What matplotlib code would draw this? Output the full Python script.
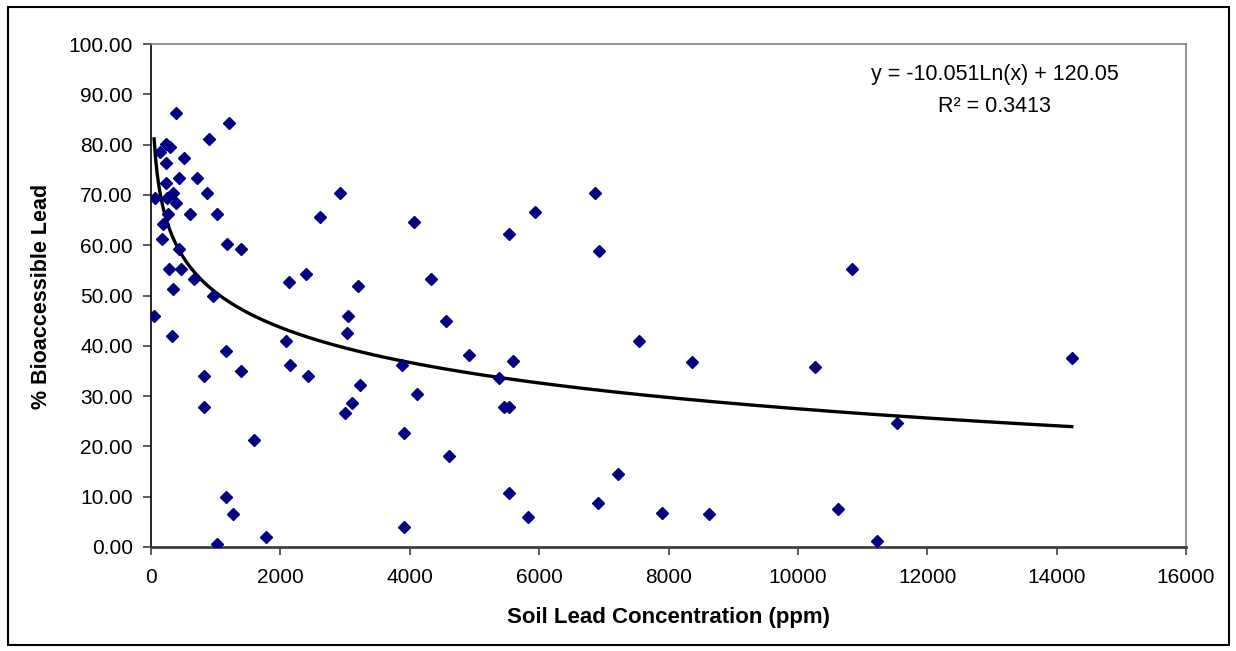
"""
Scatter: % bioaccessible lead vs soil lead concentration, with log trendline.
"""
import numpy as np
import matplotlib
matplotlib.use('Agg')
import matplotlib.pyplot as plt
from matplotlib.patches import Rectangle

plt.rcParams['font.family'] = ['Liberation Sans', 'DejaVu Sans']

# ─── Data ─────────────────────────────────────────────────────────────
soil_ppm = [48, 62, 139, 165, 190, 227, 294, 227, 227, 242,
            267, 278, 320, 335, 345, 382, 382, 433, 433, 459,
            510, 603, 665, 716, 819, 819, 870, 892, 963, 1025,
            1025, 1155, 1155, 1180, 1201, 1263, 1391, 1391, 1597, 1778,
            2082, 2138, 2144, 2396, 2432, 2613, 2922, 2999, 3025, 3050,
            3103, 3205, 3231, 3875, 3906, 3906, 4066, 4107, 4324, 4556,
            4607, 4921, 5380, 5462, 5539, 5539, 5539, 5591, 5823, 5931,
            6859, 6921, 6906, 7225, 7540, 7900, 8369, 8627, 10261, 10833,
            10626, 11219, 11528, 14234]
bioacc_pct = [45.9, 69.3, 78.6, 61.2, 64.2, 80.2, 79.6, 76.3, 72.3, 69.3,
              66.2, 55.3, 41.9, 70.4, 51.3, 86.2, 68.3, 73.3, 59.2, 55.3,
              77.3, 66.2, 53.2, 73.3, 33.9, 27.9, 70.3, 81.2, 49.9, 66.2,
              0.5, 39.0, 9.9, 60.2, 84.2, 6.5, 59.2, 34.9, 21.2, 1.9,
              41.0, 52.6, 36.2, 54.3, 33.9, 65.7, 70.3, 26.6, 42.6, 45.9,
              28.6, 51.9, 32.2, 36.2, 22.6, 3.9, 64.6, 30.5, 53.2, 44.9,
              18.0, 38.2, 33.5, 27.9, 27.9, 62.2, 10.7, 36.9, 5.9, 66.6,
              70.3, 58.9, 8.7, 14.5, 40.9, 6.8, 36.8, 6.5, 35.8, 55.2,
              7.6, 1.2, 24.6, 37.5]

# Excel log trendline as printed on the chart
fit_slope = -10.051
fit_intercept = 120.05
fit_r2 = 0.3413

x_ticks = list(range(0, 16001, 2000))
y_ticks = list(range(0, 101, 10))

# ─── Plot ─────────────────────────────────────────────────────────────
W, H = 1236, 651
fig = plt.figure(figsize=(W / 100, H / 100), dpi=100)
ax = fig.add_axes([151 / W, 1 - 547 / H, (1186 - 151) / W, (547 - 44) / H])

ax.plot(soil_ppm, bioacc_pct, linestyle='none', marker='D', markersize=6.4,
        color='#000080', markeredgecolor='#000080', zorder=3)

xs = np.linspace(min(soil_ppm), max(soil_ppm), 600)
ax.plot(xs, fit_slope * np.log(xs) + fit_intercept, color='black', lw=2.4, zorder=2)

ax.set_xlim(0, 16000)
ax.set_ylim(0, 100)
ax.set_xticks(x_ticks)
ax.set_yticks(y_ticks)
ax.set_xticklabels([str(t) for t in x_ticks])
ax.set_yticklabels([f'{t:.2f}' for t in y_ticks])
ax.tick_params(axis='both', direction='out', length=6, width=1.2,
               labelsize=15, colors='#404040', labelcolor='black')
ax.tick_params(axis='x', pad=9)
ax.tick_params(axis='y', pad=7)

ax.spines['left'].set_color('black')
ax.spines['left'].set_linewidth(1.2)
ax.spines['bottom'].set_color('#404040')
ax.spines['bottom'].set_linewidth(2)
for s in ('top', 'right'):
    ax.spines[s].set_color('#808080')
    ax.spines[s].set_linewidth(1.2)

fig.text(668.5 / W, 1 - 617 / H, 'Soil Lead Concentration (ppm)', fontsize=16,
         weight='bold', ha='center', va='center')
fig.text(42 / W, 1 - 296 / H, '% Bioaccessible Lead', fontsize=15.5,
         weight='bold', ha='center', va='center', rotation=90)

# trendline label
fig.text(994.5 / W, 1 - 80 / H, f'y = {fit_slope}Ln(x) + {fit_intercept}',
         fontsize=15.5, ha='center', va='baseline')
fig.text(994.5 / W, 1 - 112 / H, f'R² = {fit_r2}',
         fontsize=15.5, ha='center', va='baseline')

# outer chart border
fig.patches.append(Rectangle((8 / W, 1 - 645 / H), (1229 - 8) / W, (645 - 7) / H,
                             fill=False, ec='black', lw=1.5, transform=fig.transFigure))

fig.savefig('out.png', dpi=100, facecolor='white')
